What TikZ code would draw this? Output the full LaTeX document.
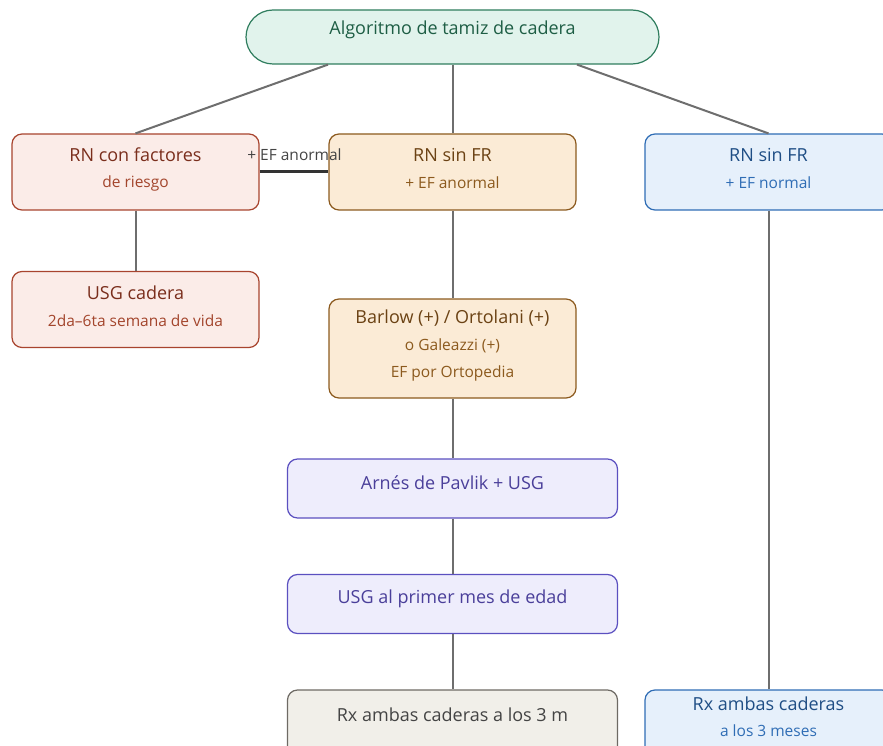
\documentclass[tikz,border=0pt]{standalone}
\usepackage{fontspec}
\setmainfont{Open Sans}
\definecolor{lnc}{HTML}{6E6E6E}
\definecolor{grF}{HTML}{E1F3EC}\definecolor{grD}{HTML}{2F7D5E}\definecolor{grT}{HTML}{1E5E45}
\definecolor{rdF}{HTML}{FBECE8}\definecolor{rdD}{HTML}{A8442E}\definecolor{rdT}{HTML}{7A2E1C}\definecolor{rdS}{HTML}{A3452C}
\definecolor{orF}{HTML}{FBEBD6}\definecolor{orD}{HTML}{8C5A1E}\definecolor{orT}{HTML}{6B4214}\definecolor{orS}{HTML}{8C5A1E}
\definecolor{blF}{HTML}{E6F0FB}\definecolor{blD}{HTML}{2F6DB5}\definecolor{blT}{HTML}{1F4E85}\definecolor{blS}{HTML}{2F6DB5}
\definecolor{puF}{HTML}{EEEDFC}\definecolor{puD}{HTML}{5B50C0}\definecolor{puT}{HTML}{4A3F9A}
\definecolor{gyF}{HTML}{F1EFE9}\definecolor{gyD}{HTML}{6E6A64}\definecolor{gyT}{HTML}{444444}
\begin{document}
\begin{tikzpicture}[x=1pt,y=-1pt,
  box/.style={draw, rounded corners=10pt, line width=1.2pt, minimum width=247pt, minimum height=76pt, inner sep=0pt},
  wbox/.style={box, minimum width=330pt, minimum height=59pt},
  ttl/.style={inner sep=0pt, font=\fontsize{18}{21}\selectfont},
  sub/.style={inner sep=0pt, font=\fontsize{15.5}{18}\selectfont},
  conn/.style={draw=lnc, line width=2pt},
  thick conn/.style={draw=black!80, line width=3pt},
]
\useasboundingbox (0,0) rectangle (883,746);
\clip (0,0) rectangle (883,746);

% boxes
\node[box, fill=grF, draw=grD, minimum width=413pt, minimum height=54pt, rounded corners=27pt] (root) at (452.5,37) {};
\node[box, fill=rdF, draw=rdD] (rnf) at (135.5,172) {};
\node[box, fill=orF, draw=orD] (rns) at (452.5,172) {};
\node[box, fill=blF, draw=blD] (rnn) at (768.5,172) {};
\node[box, fill=rdF, draw=rdD] (usg) at (135.5,309.5) {};
\node[box, fill=orF, draw=orD, minimum height=99pt] (bar) at (452.5,348.5) {};
\node[wbox, fill=puF, draw=puD] (arn) at (452.5,488.5) {};
\node[wbox, fill=puF, draw=puD] (usm) at (452.5,604) {};
\node[wbox, fill=gyF, draw=gyD, minimum height=70pt] (rxl) at (452.5,725) {};
\node[box, fill=blF, draw=blD] (rxr) at (768.5,728) {};

% connectors
\draw[conn] ([xshift=-124.5pt]root.south) -- (rnf.north);
\draw[conn] (root.south) -- (rns.north);
\draw[conn] ([xshift=124.5pt]root.south) -- (rnn.north);
\draw[conn] (rnf.south) -- (usg.north);
\draw[conn] (rns.south) -- (bar.north);
\draw[conn] (bar.south) -- (arn.north);
\draw[conn] (arn.south) -- (usm.north);
\draw[conn] (usm.south) -- (rxl.north);
\draw[conn] (rnn.south) -- (rxr.north);
\draw[thick conn] (rnf.east) -- (rns.west);
\node[sub, text=gyT] (lbl) at (294.5,155) {+ EF anormal};

% texts
\node[ttl, text=grT] (root-t) at (452.5,30) {Algoritmo de tamiz de cadera};
\node[ttl, text=rdT] (rnf-t) at (135.5,155) {RN con factores};
\node[sub, text=rdS] (rnf-s) at (135.5,183) {de riesgo};
\node[ttl, text=orT] (rns-t) at (452.5,155) {RN sin FR};
\node[sub, text=orS] (rns-s) at (452.5,183) {+ EF anormal};
\node[ttl, text=blT] (rnn-t) at (768.5,155) {RN sin FR};
\node[sub, text=blS] (rnn-s) at (768.5,183) {+ EF normal};
\node[ttl, text=rdT] (usg-t) at (135.5,293) {USG cadera};
\node[sub, text=rdS] (usg-s) at (135.5,321) {2da–6ta semana de vida};
\node[ttl, text=orT] (bar-t) at (452.5,318) {Barlow (+) / Ortolani (+)};
\node[sub, text=orS] (bar-s1) at (452.5,346) {o Galeazzi (+)};
\node[sub, text=orS] (bar-s2) at (452.5,373) {EF por Ortopedia};
\node[ttl, text=puT] (arn-t) at (452.5,483) {Arnés de Pavlik + USG};
\node[ttl, text=puT] (usm-t) at (452.5,599) {USG al primer mes de edad};
\node[ttl, text=gyT] (rxl-t) at (452.5,715) {Rx ambas caderas a los 3 m};
\node[ttl, text=blT] (rxr-t) at (768.5,704) {Rx ambas caderas};
\node[sub, text=blS] (rxr-s) at (768.5,731) {a los 3 meses};
\end{tikzpicture}
\end{document}
